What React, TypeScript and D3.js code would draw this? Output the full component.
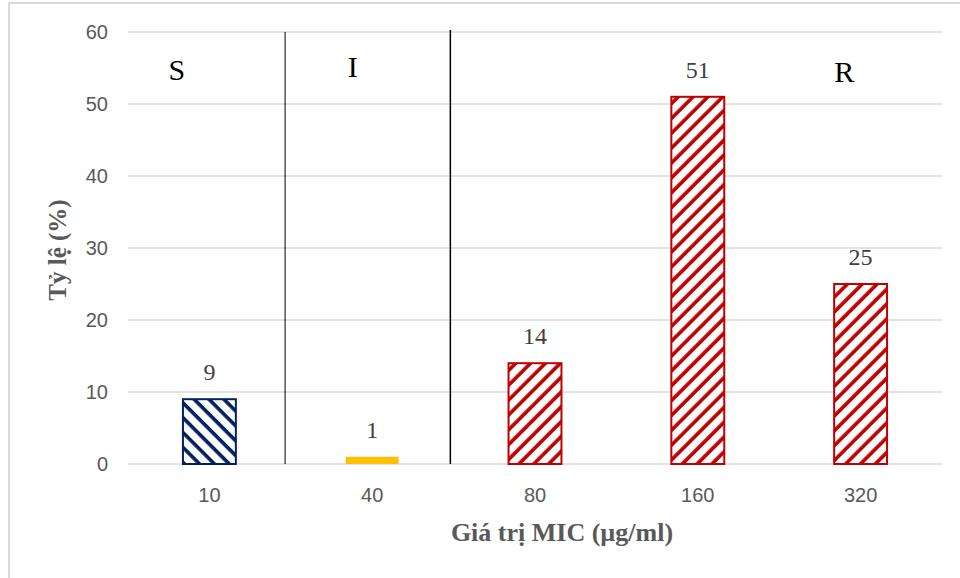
import * as d3 from "d3";

// MIC values (µg/ml) and share of isolates (%)
const categories = ["10", "40", "80", "160", "320"];
const values = [9, 1, 14, 51, 25];
const groups = ["S", "I", "R", "R", "R"];
const yTicks = [0, 10, 20, 30, 40, 50, 60];
const zoneLabels = ["S", "I", "R"];
const zoneLabelIdx = [0.3, 1.38, 4.4]; // in category-index units
const zoneLabelVal = [53.3, 53.7, 53.0];
const dividers = [0.965, 1.98]; // category-index units
const yTitle = "Tỷ lệ (%)";
const xTitle = "Giá trị MIC (µg/ml)";

const W = 960;
const H = 578;
const left = 128;
const right = 942;
const top = 32;
const bottom = 464;

const SERIF = "'Liberation Serif', 'Times New Roman', serif";
const SANS = "'Liberation Sans', Arial, sans-serif";

const colorOf: Record<string, string> = { S: "#002060", I: "#ffc000", R: "#c00000" };

export default function App() {
  const x = d3
    .scaleBand<string>()
    .domain(categories)
    .range([left, right])
    .paddingInner(0.675)
    .paddingOuter(0.3375);
  const xi = d3.scaleLinear().domain([0, categories.length]).range([left, right]);
  const y = d3.scaleLinear().domain([0, 60]).range([bottom, top]);
  const bw = x.bandwidth();

  const fillOf = (g: string) =>
    g === "S" ? "url(#hatchS)" : g === "R" ? "url(#hatchR)" : colorOf.I;

  return (
    <svg
      width={W}
      height={H}
      style={{ position: "absolute", left: 0, top: 0, background: "#fff" }}
    >
      <defs>
        <pattern
          id="hatchS"
          patternUnits="userSpaceOnUse"
          width={10.5}
          height={10.5}
          patternTransform="rotate(-45)"
        >
          <rect width={10.5} height={10.5} fill="#fff" />
          <line x1={2} y1={0} x2={2} y2={10.5} stroke={colorOf.S} strokeWidth={3.6} />
        </pattern>
        <pattern
          id="hatchR"
          patternUnits="userSpaceOnUse"
          width={10.5}
          height={10.5}
          patternTransform="rotate(45)"
        >
          <rect width={10.5} height={10.5} fill="#fff" />
          <line x1={2} y1={0} x2={2} y2={10.5} stroke={colorOf.R} strokeWidth={3.6} />
        </pattern>
      </defs>

      {/* chart frame (only left/top edges fall inside the picture) */}
      <rect x={9} y={3} width={W + 20} height={H + 20} fill="none" stroke="#d9d9d9" strokeWidth={2} />

      {/* gridlines */}
      {yTicks.map((t) => (
        <line
          key={t}
          x1={left}
          x2={right}
          y1={y(t)}
          y2={y(t)}
          stroke="#d9d9d9"
          strokeWidth={1.5}
        />
      ))}

      {/* y tick labels */}
      {yTicks.map((t) => (
        <text
          key={"yt" + t}
          x={left - 20}
          y={y(t)}
          dy="0.35em"
          textAnchor="end"
          fontFamily={SANS}
          fontSize={20}
          fill="#595959"
        >
          {t}
        </text>
      ))}

      {/* x tick labels */}
      {categories.map((c) => (
        <text
          key={"xt" + c}
          x={x(c)! + bw / 2}
          y={bottom + 31}
          dy="0.35em"
          textAnchor="middle"
          fontFamily={SANS}
          fontSize={20}
          fill="#595959"
        >
          {c}
        </text>
      ))}

      {/* bars */}
      {categories.map((c, i) => {
        const g = groups[i];
        const hatched = g !== "I";
        return (
          <rect
            key={"b" + c}
            x={x(c)!}
            y={y(values[i])}
            width={bw}
            height={bottom - y(values[i])}
            fill={fillOf(g)}
            stroke={hatched ? colorOf[g] : "none"}
            strokeWidth={2}
          />
        );
      })}

      {/* value labels */}
      {categories.map((c, i) => (
        <text
          key={"v" + c}
          x={x(c)! + bw / 2}
          y={y(values[i]) - 19}
          textAnchor="middle"
          fontFamily={SERIF}
          fontSize={24}
          fill="#404040"
        >
          {values[i]}
        </text>
      ))}

      {/* S / I / R dividers */}
      {dividers.map((d, i) => (
        <line
          key={"d" + i}
          x1={xi(d)}
          x2={xi(d)}
          y1={y(60) - i * 2}
          y2={bottom}
          stroke="#000"
          strokeWidth={i === 0 ? 1 : 1.5}
        />
      ))}

      {zoneLabels.map((z, i) => (
        <text
          key={"z" + i}
          x={xi(zoneLabelIdx[i])}
          y={y(zoneLabelVal[i])}
          textAnchor="middle"
          fontFamily={SERIF}
          fontSize={30}
          fill="#000"
        >
          {z}
        </text>
      ))}

      {/* axis titles */}
      <text
        transform={`translate(66, ${(top + bottom) / 2 + 2}) rotate(-90)`}
        textAnchor="middle"
        fontFamily={SERIF}
        fontWeight="bold"
        fontSize={25}
        fill="#595959"
      >
        {yTitle}
      </text>
      <text
        x={562}
        y={541}
        textAnchor="middle"
        fontFamily={SERIF}
        fontWeight="bold"
        fontSize={26}
        fill="#595959"
      >
        {xTitle}
      </text>
    </svg>
  );
}
